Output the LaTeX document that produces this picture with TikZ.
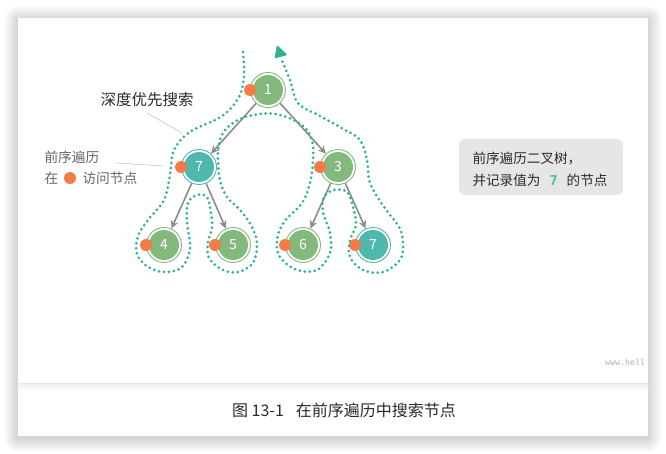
\documentclass[tikz,border=0pt]{standalone}
\usepackage{fontspec}
\setmainfont{Noto Sans CJK SC}
\setmonofont{DejaVu Sans Mono}
\usetikzlibrary{arrows.meta}
\definecolor{treegreen}{HTML}{83B97C}
\definecolor{treeteal}{HTML}{4FB8AE}
\definecolor{visitorange}{HTML}{F47A48}
\definecolor{tourgreen}{HTML}{2DB38E}
\definecolor{edgegray}{HTML}{8C8C8C}
\definecolor{textdark}{HTML}{2B2B2B}
\definecolor{textgray}{HTML}{666666}
\definecolor{notegray}{HTML}{E6E6E6}
\tikzset{
  treenode/.style={circle, minimum size=35pt, inner sep=0pt, draw=#1, line width=0.9pt,
    fill=white, text=white, font=\fontsize{14}{14}\selectfont,
    path picture={\fill[#1] (path picture bounding box.center) circle (15pt);}},
  treenode/.default=treegreen,
  edge/.style={edgegray, line width=1.6pt, -{Stealth[length=8pt,width=7.5pt]}},
  visit/.style={fill=visitorange},
  tour/.style={tourgreen, line width=3pt, line cap=round, dash pattern=on 0pt off 5pt},
  leader/.style={gray!45, line width=0.6pt},
}
\begin{document}
\begin{tikzpicture}[x=1pt,y=-1pt]
        \useasboundingbox (0,0) rectangle (666,454);
        % Card and shadow
        \foreach \s in {1,...,14}
            \fill[black, opacity=0.012, rounded corners=\s pt] (18-\s,18-\s+2) rectangle (648+\s,436+\s+2);
        \fill[white] (18,18) rectangle (648,436);
        \shade[top color=gray!12, bottom color=white] (18,383) rectangle (648,391);
        \draw[gray!20, line width=0.8pt] (18,383) -- (648,383);
        % Tree nodes
        \node[treenode] (n1) at (268,90) {1};
        \node[treenode=treeteal] (n7a) at (199,167) {7};
        \node[treenode] (n3) at (338,167) {3};
        \node[treenode] (n4) at (164,245) {4};
        \node[treenode] (n5) at (233,245) {5};
        \node[treenode] (n6) at (303,245) {6};
        \node[treenode=treeteal] (n7b) at (373,245) {7};
        % Edges
        \draw[edge] (n1) -- (n7a);
        \draw[edge] (n1) -- (n3);
        \draw[edge] (n7a) -- (n4);
        \draw[edge] (n7a) -- (n5);
        \draw[edge] (n3) -- (n6);
        \draw[edge] (n3) -- (n7b);
        % Visit marks
        \foreach \n in {n1,n7a,n3,n4,n5,n6,n7b}
            \fill[visit] (\n.west) circle (6pt);
        % Traversal path
        \draw[tour] plot[smooth, tension=0.6] coordinates {
            (243,52) (244,75) (239,97) (222,116) (190,132) (174,150) (170,175)
            (164,200) (148,220) (138,236) (137,254) (148,267) (165,272) (182,267)
            (190,248) (187,222) (188,203) (197,195) (207,197) (211,213) (212,228)
            (208,242) (209,258) (223,270) (238,272) (253,263) (257,244) (252,227)
            (240,210) (227,197) (220,180) (218,153) (223,133) (238,120) (260,114)
            (280,115) (302,125) (312,140) (313,160) (310,183) (302,203) (284,222)
            (277,240) (280,257) (297,270) (317,270) (330,253) (330,233) (323,212)
            (324,197) (334,190) (347,192) (353,207) (356,225) (350,240) (350,257)
            (363,270) (383,272) (400,260) (403,243) (399,227) (384,207) (370,183)
            (367,160) (360,140) (345,130) (320,116) (298,103) (290,80) (282,61)};
        \fill[tourgreen, rounded corners=1pt] (277,45) -- (274.5,58.5) -- (287.5,55) -- cycle;
        % Labels
        \node[anchor=west, text=textdark, font=\fontsize{15.5}{15.5}\selectfont] (dfs) at (97,100) {深度优先搜索};
        \draw[leader] (147,113) -- (182,133);
        \node[anchor=west, text=textgray, font=\fontsize{13.7}{13.7}\selectfont] (pre) at (41,157) {前序遍历};
        \node[anchor=west, text=textgray, font=\fontsize{13.7}{13.7}\selectfont] (at) at (41,178) {在};
        \fill[visit] (70,178) circle (6pt);
        \node[anchor=west, text=textgray, font=\fontsize{13.7}{13.7}\selectfont] (visitnode) at (79,178) {访问节点};
        \draw[leader] (116,163) -- (163,166);
        % Note box
        \node[fill=notegray, rounded corners=6pt, minimum width=164pt, minimum height=56pt] (note) at (541,167) {};
        \node[anchor=west, text=textdark, font=\fontsize{13.6}{13.6}\selectfont] (note1) at (469,158) {前序遍历二叉树，};
        \node[anchor=west, text=textdark, font=\fontsize{13.6}{13.6}\selectfont] (note2) at (469,180)
            {并记录值为\hspace{9pt}{\color{treeteal}\ttfamily\bfseries 7}\hspace{9pt}的节点};
        % Watermark and caption
        \node[anchor=west, text=gray!60, font=\ttfamily\fontsize{8.3}{8.3}\selectfont, inner sep=0pt] (mark) at (605,362) {www.hell};
        \node[text=textdark, font=\fontsize{16}{16}\selectfont] (caption) at (344,410) {图 13-1\hspace{12pt}在前序遍历中搜索节点};
    \end{tikzpicture}
\end{document}
